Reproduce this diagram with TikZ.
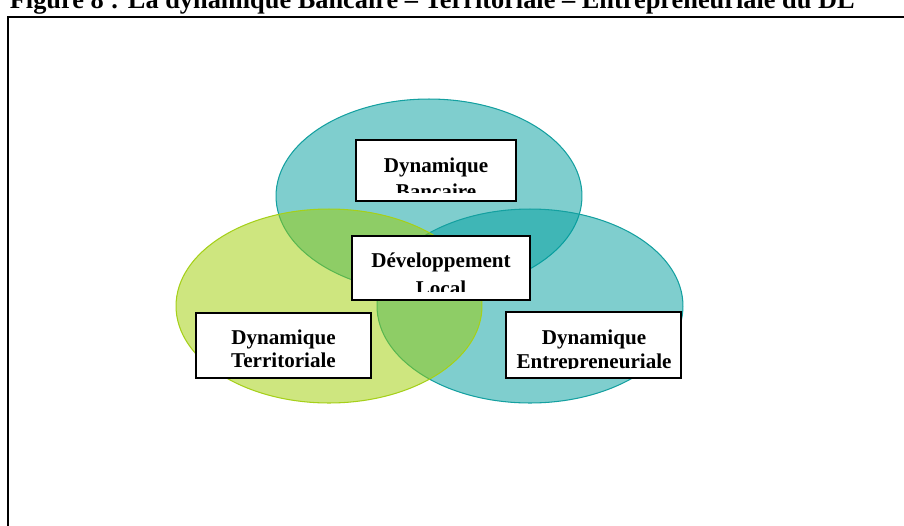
\documentclass[tikz,border=0pt]{standalone}
\usepackage{fontspec}
\setmainfont{Liberation Serif}
\definecolor{sarcelle}{RGB}{0,158,158}
\definecolor{sarcelletrait}{RGB}{20,160,160}
\definecolor{anis}{RGB}{158,205,0}
\definecolor{anistrait}{RGB}{165,208,25}
\begin{document}
\begin{tikzpicture}[x=0.02cm, y=-0.02cm,
        bulle/.style={line width=0.6pt, fill opacity=0.5},
        bleue/.style={bulle, draw=sarcelletrait, fill=sarcelle},
        verte/.style={bulle, draw=anistrait, fill=anis},
        cadre/.style={draw=black, fill=white, line width=1.1pt, inner sep=0pt},
        etiq/.style={font=\bfseries\fontsize{12pt}{14pt}\selectfont, inner sep=0pt, anchor=base},
        titre/.style={font=\bfseries\fontsize{15pt}{18pt}\selectfont, inner sep=0pt, anchor=base east}]
    \useasboundingbox (0,0) rectangle (904,525);
    \clip (0,0) rectangle (904,525);
    % titre coupe en haut
    \node[titre] (titre) at (855,8) {Figure 8 : La dynamique Bancaire – Territoriale – Entrepreneuriale du DL};
    \draw[line width=1.1pt] (8,540) |- (920,17);
    % les trois ellipses
    \draw[bleue] (429,196) ellipse [x radius=3.06cm, y radius=1.94cm];
    \draw[bleue] (530,306) ellipse [x radius=3.06cm, y radius=1.94cm];
    \draw[verte] (329,306) ellipse [x radius=3.06cm, y radius=1.94cm];
    % les cadres
    \node[cadre, minimum width=3.2cm, minimum height=1.22cm] (bancaire) at (436,170.5) {};
    \node[cadre, minimum width=3.56cm, minimum height=1.28cm] (local) at (441,268) {};
    \node[cadre, minimum width=3.5cm, minimum height=1.3cm] (territ) at (283.5,345.5) {};
    \node[cadre, minimum width=3.5cm, minimum height=1.32cm] (entrep) at (593.5,345) {};
    % textes, rognes par leur cadre
    \begin{scope}
        \clip ([shift={(3,3)}]bancaire.north west) rectangle ([shift={(-3,-9)}]bancaire.south east);
        \node[etiq] (banc1) at (436,172) {Dynamique};
        \node[etiq] (banc2) at (436,198) {Bancaire};
    \end{scope}
    \begin{scope}
        \clip ([shift={(3,3)}]local.north west) rectangle ([shift={(-3,-9)}]local.south east);
        \node[etiq] (loc1) at (441,267) {Développement};
        \node[etiq] (loc2) at (441,295) {Local};
    \end{scope}
    \begin{scope}
        \clip ([shift={(3,3)}]territ.north west) rectangle ([shift={(-3,-9)}]territ.south east);
        \node[etiq] (ter1) at (283.5,344) {Dynamique};
        \node[etiq] (ter2) at (283.5,367) {Territoriale};
    \end{scope}
    \begin{scope}
        \clip ([shift={(3,3)}]entrep.north west) rectangle ([shift={(-3,-10)}]entrep.south east);
        \node[etiq] (ent1) at (594,344) {Dynamique};
        \node[etiq] (ent2) at (594,368) {Entrepreneuriale};
    \end{scope}
\end{tikzpicture}
\end{document}
